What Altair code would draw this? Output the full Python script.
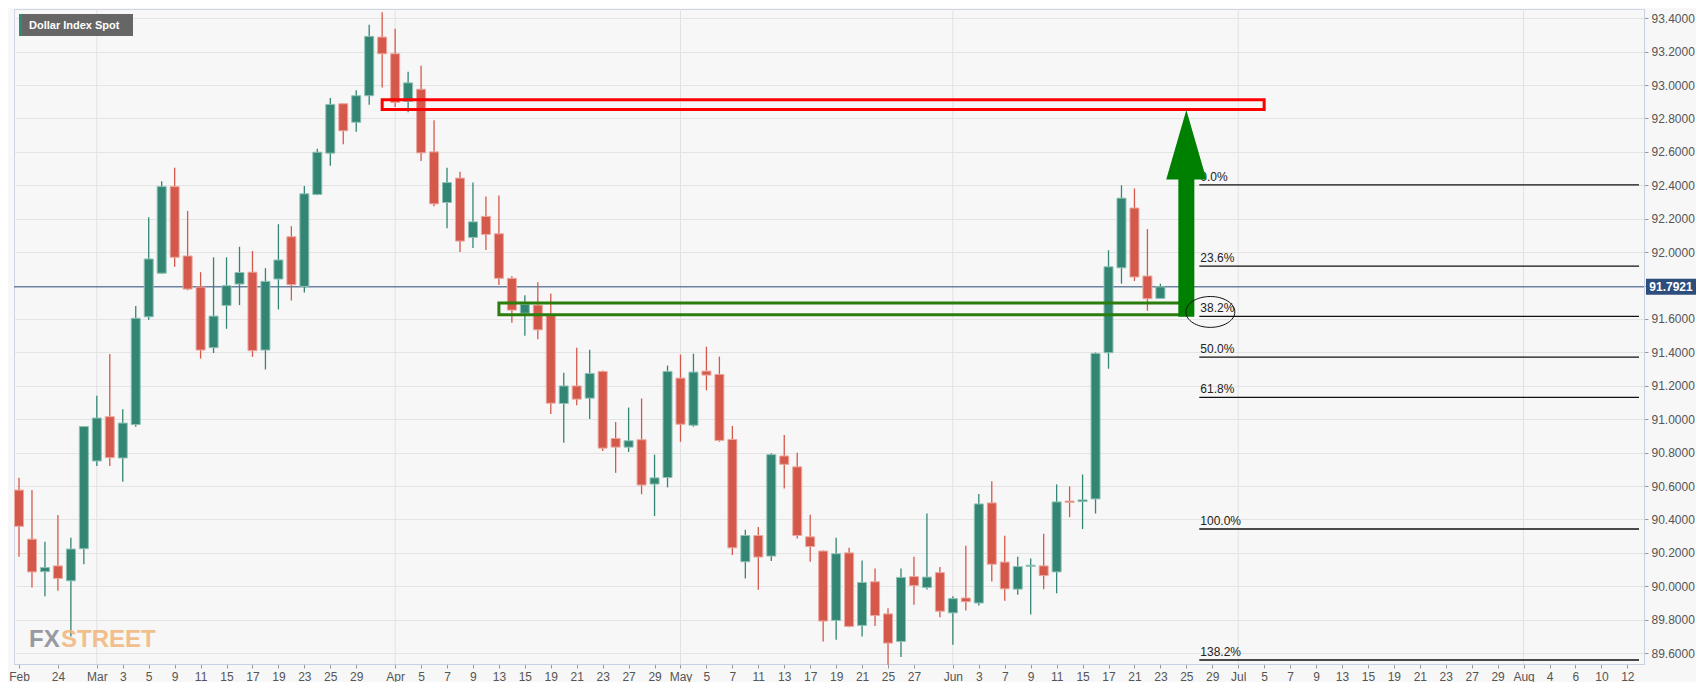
import altair as alt
import pandas as pd

# ---------------- data ----------------
idx = list(range(-1, 88))  # business-day index, 0 = Feb 22 2021
opens = [90.576, 90.282, 90.088, 90.122, 90.033, 90.225, 90.75, 91.015, 90.768, 90.968,
         91.613, 91.874, 92.392, 91.977, 91.791, 91.428, 91.681, 91.809, 91.88, 91.414,
         91.839, 92.092, 91.795, 92.345, 92.592, 92.888, 92.777, 92.936, 93.287, 93.187,
         92.902, 92.975, 92.6, 92.297, 92.443, 92.088, 92.214, 92.11, 91.843, 91.634,
         91.683, 91.62, 91.094, 91.199, 91.126, 91.286, 90.885, 90.833, 90.877, 90.612,
         90.651, 91.246, 90.964, 91.288, 91.268, 90.879, 90.147, 90.304, 90.181, 90.78,
         90.715, 90.296, 90.211, 89.796, 90.2, 89.766, 90.027, 89.835, 89.67, 90.058,
         89.993, 90.082, 89.841, 89.93, 89.9, 90.499, 90.145, 89.983, 90.12, 90.122,
         90.086, 90.51, 90.507, 90.523, 91.398, 91.906, 92.264, 91.857, 91.723]
highs = [90.65, 90.576, 90.266, 90.426, 90.29, 90.96, 91.14, 91.39, 91.06, 91.677,
         92.208, 92.424, 92.505, 92.246, 91.88, 91.969, 91.969, 92.032, 92.007, 91.904,
         92.167, 92.155, 92.396, 92.618, 92.922, 92.89, 92.969, 93.36, 93.436, 93.337,
         93.08, 93.115, 92.789, 92.505, 92.481, 92.416, 92.333, 92.339, 91.855, 91.742,
         91.819, 91.752, 91.278, 91.428, 91.416, 91.292, 90.983, 91.07, 91.124, 90.788,
         91.321, 91.387, 91.392, 91.434, 91.375, 90.96, 90.339, 90.355, 90.796, 90.906,
         90.8, 90.428, 90.215, 90.29, 90.23, 90.155, 90.106, 89.869, 90.106, 90.177,
         90.436, 90.116, 89.94, 90.242, 90.553, 90.628, 90.302, 90.177, 90.167, 90.315,
         90.61, 90.598, 90.669, 91.40, 92.011, 92.40, 92.381, 92.138, 91.811]
lows = [90.177, 89.993, 89.94, 89.974, 89.70, 90.132, 90.72, 90.72, 90.626, 90.955,
        91.595, 91.87, 91.912, 91.772, 91.363, 91.396, 91.541, 91.683, 91.373, 91.298,
        91.657, 91.71, 91.759, 92.34, 92.517, 92.645, 92.72, 92.882, 92.985, 92.868,
        92.837, 92.546, 92.274, 92.143, 92.0, 92.025, 92.013, 91.803, 91.578, 91.5,
        91.479, 91.031, 90.859, 91.084, 91.001, 90.81, 90.679, 90.804, 90.551, 90.42,
        90.592, 90.865, 90.955, 91.173, 90.865, 90.187, 90.047, 89.979, 90.151, 90.586,
        90.286, 90.147, 89.67, 89.68, 89.755, 89.70, 89.762, 89.53, 89.577, 89.89,
        89.981, 89.815, 89.65, 89.855, 89.885, 90.029, 89.914, 89.95, 89.831, 89.983,
        89.958, 90.414, 90.343, 90.436, 91.302, 91.811, 91.827, 91.649, 91.72]
closes = [90.359, 90.086, 90.112, 90.047, 90.223, 90.956, 91.007, 90.77, 90.977, 91.604,
          91.959, 92.392, 91.969, 91.779, 91.414, 91.617, 91.799, 91.878, 91.41, 91.825,
          91.953, 91.805, 92.349, 92.598, 92.884, 92.726, 92.936, 93.291, 93.187, 92.896,
          93.013, 92.594, 92.289, 92.416, 92.066, 92.181, 92.106, 91.843, 91.653, 91.687,
          91.535, 91.096, 91.199, 91.12, 91.274, 90.827, 90.833, 90.871, 90.606, 90.649,
          91.286, 90.97, 91.282, 91.264, 90.873, 90.23, 90.304, 90.175, 90.788, 90.73,
          90.304, 90.238, 89.792, 90.195, 89.76, 90.023, 89.825, 89.66, 90.053, 90.005,
          90.055, 89.851, 89.926, 89.908, 90.493, 90.132, 89.985, 90.118, 90.126, 90.064,
          90.505, 90.502, 90.517, 91.394, 91.912, 92.323, 91.851, 91.721, 91.792]

tick_idx = [-1, 2, 5, 7, 9, 11, 13, 15, 17, 19, 21, 23, 25,
            28, 30, 32, 34, 36, 38, 40, 42, 44, 46, 48,
            50, 52, 54, 56, 58, 60, 62, 64, 66, 68,
            71, 73, 75, 77, 79, 81, 83, 85, 87, 89, 91,
            93, 95, 97, 99, 101, 103, 105, 107, 109, 111, 113,
            115, 117, 119, 121, 123]
tick_lbl = ['Feb', '24', 'Mar', '3', '5', '9', '11', '15', '17', '19', '23', '25', '29',
            'Apr', '5', '7', '9', '13', '15', '19', '21', '23', '27', '29',
            'May', '5', '7', '11', '13', '17', '19', '21', '25', '27',
            'Jun', '3', '7', '9', '11', '15', '17', '21', '23', '25', '29',
            'Jul', '5', '7', '9', '13', '15', '19', '21', '23', '27', '29',
            'Aug', '4', '6', '10', '12']
month_idx = [5, 28, 50, 71, 93, 115]
y_ticks = [89.6, 89.8, 90.0, 90.2, 90.4, 90.6, 90.8, 91.0, 91.2, 91.4, 91.6, 91.8,
           92.0, 92.2, 92.4, 92.6, 92.8, 93.0, 93.2, 93.4]

last_price = [91.7921]
last_label = ['91.7921']

fib_pct = ['0.0%', '23.6%', '38.2%', '50.0%', '61.8%', '100.0%', '138.2%']
fib_lvl = [92.402, 91.916, 91.615, 91.372, 91.131, 90.343, 89.559]
fib_start = [90]
x_end = [123.9]

red_box_x = [27, 95]
red_box_y = [92.853, 92.912]
green_box_x = [36, 89]
green_box_y = [91.625, 91.695]
arrow_x = [89.0]
arrow_shaft_y = [91.613, 92.44]
head_x = [87.45, 89.0, 90.55]
head_y = [92.434, 92.85, 92.434]
ellipse_x = [90.85]
ellipse_y = [91.642]

# ---------------- styling ----------------
W, H = 1630, 655
FONT = "Liberation Sans Narrow, Arial Narrow, Liberation Sans, Arial, sans-serif"
UP, DOWN = "#338574", "#d5594a"
UP_EDGE, DOWN_EDGE = "#8ec2b5", "#eba89f"

XS = alt.Scale(domain=[-1, 123.9], nice=False, zero=False)
YS = alt.Scale(domain=[89.535, 93.455], nice=False, zero=False)

lbl_expr = "[" + ",".join("'%s'" % s for s in tick_lbl) + "][indexof([" + \
    ",".join(str(v) for v in tick_idx) + "], datum.value)]"

xaxis = alt.Axis(values=tick_idx, labelExpr=lbl_expr, grid=False, title=None,
                 domainColor="#c8cfe2", tickColor="#9a9a9a", tickSize=4,
                 labelColor="#555555", labelFont=FONT, labelFontSize=12,
                 labelPadding=3, labelFlush=True, labelOverlap=False)
yaxis = alt.Axis(orient="right", values=y_ticks, format=".4f", grid=True,
                 gridColor="#e4e4e4", title=None, domainColor="#c8cfe2",
                 tickColor="#9a9a9a", tickSize=4, labelColor="#555555",
                 labelFont=FONT, labelFontSize=12, labelPadding=3)


def X(f):
    return alt.X(f, type="quantitative", scale=XS, axis=xaxis)


def Y(f):
    return alt.Y(f, type="quantitative", scale=YS, axis=yaxis)


candles = pd.DataFrame({"i": idx, "open": opens, "high": highs,
                        "low": lows, "close": closes})
candles["dir"] = ["up" if c >= o else "down" for o, c in zip(opens, closes)]

months = pd.DataFrame({"i": month_idx})
price = pd.DataFrame({"p": last_price, "t": last_label})
fib = pd.DataFrame({"lvl": fib_lvl, "pct": fib_pct,
                    "x0": fib_start * len(fib_lvl), "x1": x_end * len(fib_lvl)})
red_box = pd.DataFrame({"x0": [red_box_x[0]], "x1": [red_box_x[1]],
                        "y0": [red_box_y[0]], "y1": [red_box_y[1]]})
green_box = pd.DataFrame({"x0": [green_box_x[0]], "x1": [green_box_x[1]],
                          "y0": [green_box_y[0]], "y1": [green_box_y[1]]})
shaft = pd.DataFrame({"x": arrow_x, "y0": [arrow_shaft_y[0]], "y1": [arrow_shaft_y[1]]})
head = pd.DataFrame({"x": head_x, "y": head_y, "yb": [head_y[0]] * 3})
ell = pd.DataFrame({"x": ellipse_x, "y": ellipse_y})
one = pd.DataFrame({"t": ["Dollar Index Spot"]})

color_scale = alt.Scale(domain=["up", "down"], range=[UP, DOWN])
edge_scale = alt.Scale(domain=["up", "down"], range=[UP_EDGE, DOWN_EDGE])

grid_v = alt.Chart(months).mark_rule(color="#e2e2e2", strokeWidth=1).encode(x=X("i"))

price_line = alt.Chart(price).mark_rule(color="#2d4e7d", strokeWidth=1).encode(y=Y("p"))

fib_lines = alt.Chart(fib).mark_rule(color="#111111", strokeWidth=1.3).encode(
    x=X("x0"), x2="x1", y=Y("lvl"))
fib_text = alt.Chart(fib).mark_text(align="left", baseline="bottom", dy=-1, dx=1,
                                    font=FONT, fontSize=12, color="#222222").encode(
    x=X("x0"), y=Y("lvl"), text="pct:N")

wicks = alt.Chart(candles).mark_rule(strokeWidth=1.3).encode(
    x=X("i"), y=Y("low"), y2="high",
    color=alt.Color("dir:N", scale=color_scale, legend=None))
bodies = alt.Chart(candles).mark_bar(width=9, strokeWidth=1).encode(
    x=X("i"), y=Y("open"), y2="close",
    fill=alt.Fill("dir:N", scale=color_scale, legend=None),
    stroke=alt.Stroke("dir:N", scale=edge_scale, legend=None))

red_rect = alt.Chart(red_box).mark_rect(fillOpacity=0, strokeWidth=3,
                                        stroke="#ff0000").encode(
    x=X("x0"), x2="x1", y=Y("y0"), y2="y1")
green_rect = alt.Chart(green_box).mark_rect(fillOpacity=0, strokeWidth=3,
                                            stroke="#2b7d0c").encode(
    x=X("x0"), x2="x1", y=Y("y0"), y2="y1")

shaft_m = alt.Chart(shaft).mark_rule(color="#008000", strokeWidth=16, strokeCap="butt").encode(
    x=X("x"), y=Y("y0"), y2="y1")
head_m = alt.Chart(head).mark_area(color="#008000", opacity=1).encode(
    x=X("x"), y=Y("y"), y2="yb")

ellipse = alt.Chart(ell).mark_point(
    shape="M -1 0 A 1 0.63 0 1 0 1 0 A 1 0.63 0 1 0 -1 0 Z",
    size=2401, filled=False, color="#111111", strokeWidth=1, opacity=1).encode(
    x=X("x"), y=Y("y"))

price_box = alt.Chart(price).mark_rect(color="#2d4e7d", yOffset=-8, y2Offset=8,
                                       clip=False).encode(
    x=alt.value(W + 2), x2=alt.value(W + 52), y=Y("p"), y2="p")
price_txt = alt.Chart(price).mark_text(color="white", font=FONT, fontSize=12,
                                       fontWeight="bold", align="center",
                                       baseline="middle").encode(
    x=alt.value(W + 27), y=Y("p"), text="t:N")

title_box = alt.Chart(one).mark_rect(color="#666666").encode(
    x=alt.value(5), x2=alt.value(119), y=alt.value(5), y2=alt.value(27))
title_bar = alt.Chart(one).mark_rect(color="#2e8b78").encode(
    x=alt.value(5), x2=alt.value(8), y=alt.value(5), y2=alt.value(27))
title_txt = alt.Chart(one).mark_text(color="white", font=FONT, fontSize=11,
                                     fontWeight="bold", align="left",
                                     baseline="middle").encode(
    x=alt.value(15), y=alt.value(16.5), text="t:N")

LOGO_FONT = "Liberation Sans, Arial, sans-serif"
fx = alt.Chart(one).mark_text(text="FX", color="#8e8f98", font=LOGO_FONT, fontSize=24,
                              fontWeight="bold", align="left", baseline="alphabetic",
                              opacity=0.9).encode(x=alt.value(15), y=alt.value(H - 17))
street = alt.Chart(one).mark_text(text="STREET", color="#f2b57a", font=LOGO_FONT,
                                  fontSize=24, fontWeight="bold", align="left",
                                  baseline="alphabetic",
                                  opacity=0.85).encode(x=alt.value(47), y=alt.value(H - 17))

chart = alt.layer(
    grid_v, price_line, fib_lines, fib_text, wicks, bodies, red_rect, green_rect,
    shaft_m, head_m, ellipse, price_box, price_txt,
    title_box, title_bar, title_txt, fx, street
).properties(width=W, height=H, padding=0, background="#f7f7f7").configure_view(
    fill="#f7f7f7", stroke="#cfd5e6", strokeWidth=1)

chart.save("out.html", embed_options={"renderer": "svg", "actions": False})
